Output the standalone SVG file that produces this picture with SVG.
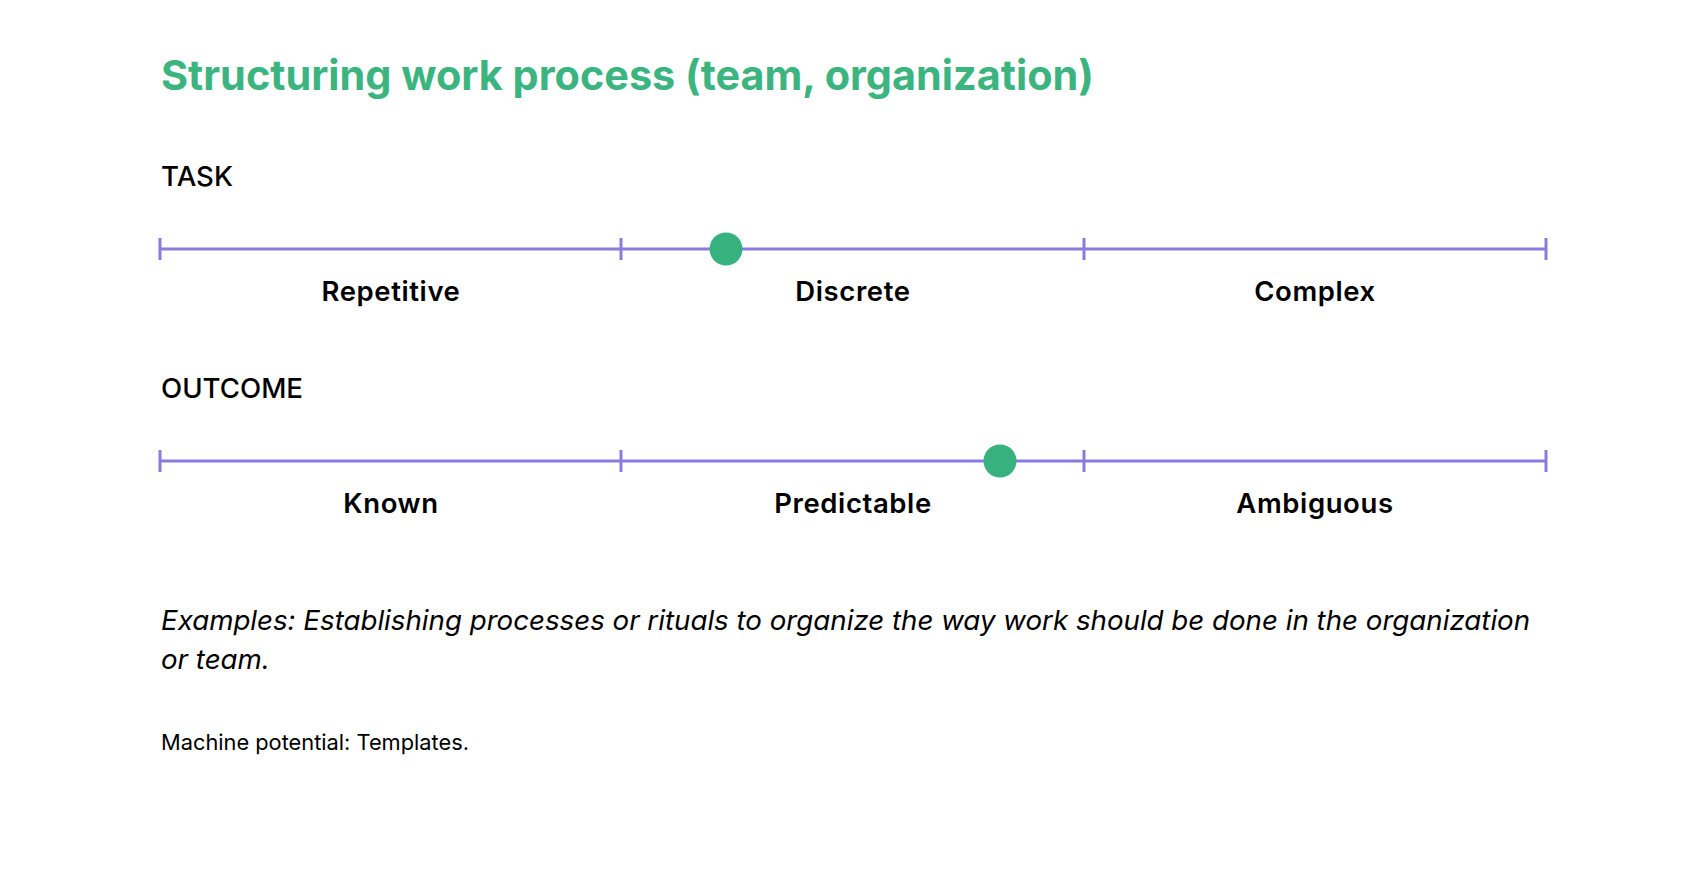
<svg xmlns="http://www.w3.org/2000/svg" width="1706" height="872" viewBox="0 0 1706 872">
<style>
text{font-family:Inter,"Noto Sans","Liberation Sans",sans-serif;fill:#000}
.title{font-size:41.4px;font-weight:700;fill:#3BB47F}
.head{font-size:27.6px;font-weight:500}
.lab{font-size:27.5px;font-weight:600;text-anchor:middle;letter-spacing:0.6px}
.ex{font-size:27.7px;font-style:italic}
.mp{font-size:21.8px}
.axis{stroke:#8B7BDC;stroke-width:3;fill:none}
.dot{fill:#37B27F}
</style>
<rect width="1706" height="872" fill="#fff"/>
<text class="title" x="161" y="90">Structuring work process (team, organization)</text>
<g id="task">
<text class="head" x="161" y="186">TASK</text>
<g class="axis">
<line x1="160" y1="249" x2="1546" y2="249"/>
<line x1="160" y1="238" x2="160" y2="260"/>
<line x1="621" y1="238" x2="621" y2="260"/>
<line x1="1084" y1="238" x2="1084" y2="260"/>
<line x1="1546" y1="238" x2="1546" y2="260"/>
</g>
<circle class="dot" cx="726" cy="249" r="16.5"/>
<text class="lab" x="391" y="301">Repetitive</text>
<text class="lab" x="853" y="301">Discrete</text>
<text class="lab" x="1315" y="301">Complex</text>
</g>
<g id="outcome">
<text class="head" x="161" y="398">OUTCOME</text>
<g class="axis">
<line x1="160" y1="461" x2="1546" y2="461"/>
<line x1="160" y1="450" x2="160" y2="472"/>
<line x1="621" y1="450" x2="621" y2="472"/>
<line x1="1084" y1="450" x2="1084" y2="472"/>
<line x1="1546" y1="450" x2="1546" y2="472"/>
</g>
<circle class="dot" cx="1000" cy="461" r="16.5"/>
<text class="lab" x="391" y="513">Known</text>
<text class="lab" x="853" y="513">Predictable</text>
<text class="lab" x="1315" y="513">Ambiguous</text>
</g>
<text class="ex" x="161" y="630">Examples: Establishing processes or rituals to organize the way work should be done in the organization</text>
<text class="ex" x="161" y="669">or team.</text>
<text class="mp" x="161" y="750">Machine potential: Templates.</text>
</svg>
